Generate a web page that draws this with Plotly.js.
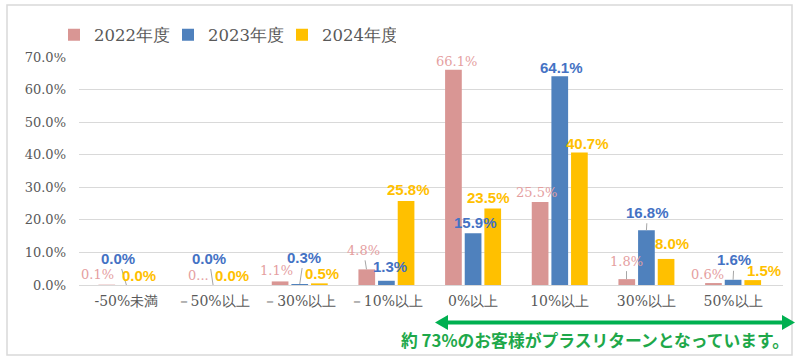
<!DOCTYPE html>
<html>
<head>
<meta charset="utf-8">
<script src="https://cdn.plot.ly/plotly-3.0.1.min.js"></script>
<style>html,body{margin:0;padding:0;background:#fff;}#chart{width:800px;height:361px;}</style>
</head>
<body>
<div id="chart"></div>
<script>
const categories = ['-50%未満', '－50%以上', '－30%以上', '－10%以上', '0%以上', '10%以上', '30%以上', '50%以上'];
const seriesNames = ['2022年度', '2023年度', '2024年度'];
const values2022 = [0.1, 0.0, 1.1, 4.8, 66.1, 25.5, 1.8, 0.6];
const values2023 = [0.0, 0.0, 0.3, 1.3, 15.9, 64.1, 16.8, 1.6];
const values2024 = [0.0, 0.0, 0.5, 25.8, 23.5, 40.7, 8.0, 1.5];
const yTickValues = [0, 10, 20, 30, 40, 50, 60, 70];
const yTickLabels = ['0.0%', '10.0%', '20.0%', '30.0%', '40.0%', '50.0%', '60.0%', '70.0%'];
const truncated2022 = {1: '0...'};
const noteText = '約 73%のお客様がプラスリターンとなっています。';

// ---- layout / styling (not data) ----
const W = 800, H = 361;
const M = {l: 79, r: 17, t: 57, b: 76};
const PW = W - M.l - M.r, PH = H - M.t - M.b;
const px2x = p => (p - M.l) / PW;
const py2y = p => (H - M.b - p) / PH;

const barColors = ['#D99694', '#4F81BD', '#FFC000'];
const labelColors = ['#E5A09F', '#4472C4', '#FFC000'];
const slot = 19.9;
// label offsets [dx, dy, leader]
const offsets = [
  [[-9,-10,0],[5,-10,0],[-3,-11,0],[-3,-19,1],[3,-8,0],[-3,-9,0],[0,-18,1],[-6,-9,0]],
  [[-8,-27,1],[-4,-27,1],[4,-27,1],[4,-14,0],[2,-11,0],[2,-9,0],[1,-18,1],[1,-20,1]],
  [[-7,-10,0],[-1,-10,0],[2,-10,0],[2,-11,0],[-4,-11,0],[8,-9,0],[6,-15,0],[11,-10,0]]
];
const labelFonts = [
  {family: 'DejaVu Serif', size: 13, color: labelColors[0]},
  {family: 'Liberation Sans, Arial, sans-serif', size: 15, color: labelColors[1], weight: 'bold'},
  {family: 'Liberation Sans, Arial, sans-serif', size: 15, color: labelColors[2], weight: 'bold'}
];

const allValues = [values2022, values2023, values2024];
const traces = allValues.map((vals, i) => ({
  type: 'bar', name: seriesNames[i], x: categories, y: vals,
  marker: {color: barColors[i]}, hoverinfo: 'skip'
}));

const annotations = [];
allValues.forEach((vals, s) => {
  vals.forEach((v, k) => {
    let txt = v.toFixed(1) + '%';
    if (s === 0 && truncated2022[k] !== undefined) txt = truncated2022[k];
    const [dx, dy, lead] = offsets[s][k];
    const base = (s - 1) * slot;
    if (lead) {
      annotations.push({x: categories[k], y: v, xref: 'x', yref: 'y', text: txt,
        showarrow: true, arrowhead: 0, arrowwidth: 1, arrowcolor: '#A6A6A6',
        ax: dx, ay: dy, standoff: 0, startstandoff: 1, xshift: base,
        font: labelFonts[s]});
    } else {
      annotations.push({x: categories[k], y: v, xref: 'x', yref: 'y', text: txt,
        showarrow: false, xshift: base + dx, yshift: -dy, yanchor: 'middle',
        font: labelFonts[s]});
    }
  });
});

annotations.push({xref: 'paper', yref: 'paper', x: px2x(791), y: py2y(340),
  xanchor: 'right', yanchor: 'middle', showarrow: false, text: noteText,
  font: {family: 'Noto Sans CJK JP', size: 16.8, color: '#1EA84A', weight: 'bold'}});

const green = '#00B050';
const ay = py2y(322.5), hh = 7.5 / PH;
const shapes = [
  {type: 'rect', xref: 'paper', yref: 'paper', x0: px2x(7), x1: px2x(792), y0: py2y(355), y1: py2y(5),
   line: {color: '#D9D9D9', width: 1.5}, layer: 'below'},
  {type: 'line', xref: 'paper', yref: 'paper', x0: px2x(444), x1: px2x(786), y0: ay, y1: ay,
   line: {color: green, width: 4}},
  {type: 'path', xref: 'paper', yref: 'paper',
   path: `M${px2x(435)},${ay} L${px2x(448)},${ay + hh} L${px2x(448)},${ay - hh} Z`,
   fillcolor: green, line: {width: 0}},
  {type: 'path', xref: 'paper', yref: 'paper',
   path: `M${px2x(795)},${ay} L${px2x(782)},${ay + hh} L${px2x(782)},${ay - hh} Z`,
   fillcolor: green, line: {width: 0}}
];

const layout = {
  width: W, height: H, margin: M,
  paper_bgcolor: '#fff', plot_bgcolor: '#fff',
  font: {family: 'DejaVu Serif', color: '#595959', size: 13},
  barmode: 'group', bargap: 0.32, bargroupgap: 0.15,
  showlegend: true,
  legend: {orientation: 'h', xref: 'container', yref: 'container', x: 54 / W, y: 1 - 35 / H,
    xanchor: 'left', yanchor: 'middle', font: {family: 'DejaVu Serif', size: 16.5, color: '#595959'},
    entrywidth: 69, traceorder: 'normal'},
  xaxis: {type: 'category', showgrid: false, showline: false, zeroline: false,
    tickfont: {family: 'DejaVu Serif', size: 14, color: '#595959'}, ticklabelstandoff: 6},
  yaxis: {range: [0, 70], tickvals: yTickValues, ticktext: yTickLabels,
    showgrid: true, gridcolor: '#D9D9D9', gridwidth: 1, zeroline: true, zerolinecolor: '#D9D9D9', zerolinewidth: 1,
    showline: false, tickfont: {family: 'DejaVu Serif', size: 13, color: '#595959'}, ticklabelstandoff: 12},
  annotations: annotations, shapes: shapes
};

Plotly.newPlot('chart', traces, layout, {displayModeBar: false, staticPlot: true});
</script>
</body>
</html>
